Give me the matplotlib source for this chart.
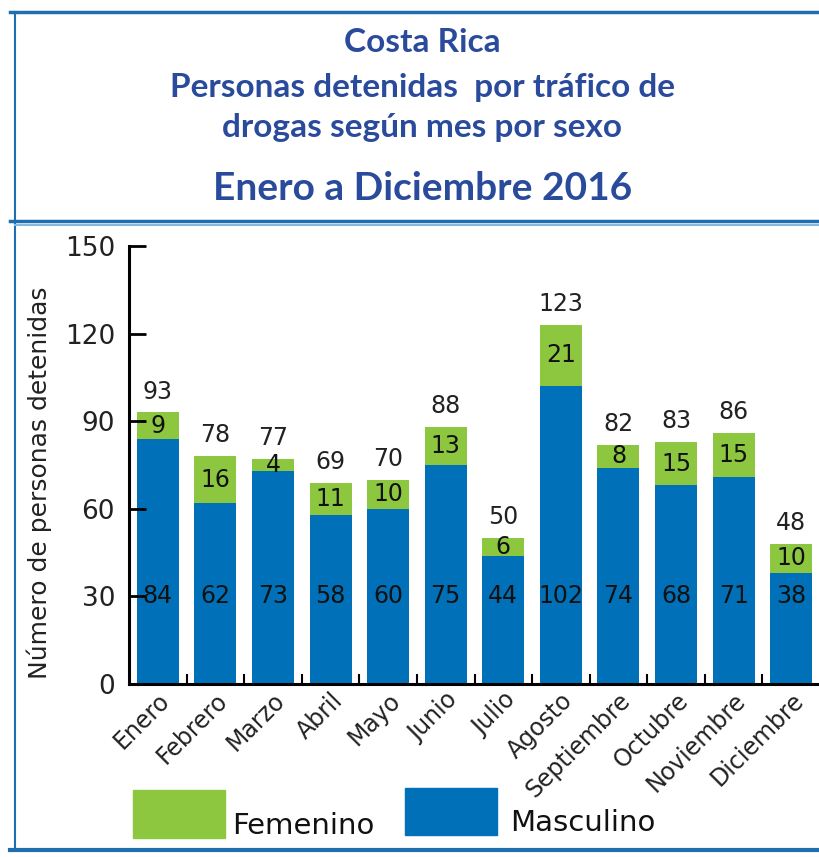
import numpy as np
import matplotlib.pyplot as plt
from matplotlib.lines import Line2D
from matplotlib.patches import Rectangle

# Datos: personas detenidas por tráfico de drogas, Costa Rica 2016
meses = ['Enero', 'Febrero', 'Marzo', 'Abril', 'Mayo', 'Junio', 'Julio',
         'Agosto', 'Septiembre', 'Octubre', 'Noviembre', 'Diciembre']
masculino = [84, 62, 73, 58, 60, 75, 44, 102, 74, 68, 71, 38]
femenino = [9, 16, 4, 11, 10, 13, 6, 21, 8, 15, 15, 10]

azul = '#0070b8'
verde = '#8dc63f'
titulo_color = '#2a4a9c'
borde = '#1f6fb0'

W, H = 819, 857
fig = plt.figure(figsize=(W / 100, H / 100), dpi=100)

def fx(px):
    return px / W

def fy(py):
    return 1 - py / H

ax = fig.add_axes([fx(129), fy(684), fx(820) - fx(129), fy(246) - fy(684)])

x = np.arange(len(meses))
masc = np.array(masculino)
fem = np.array(femenino)
total = masc + fem

ax.bar(x, masc, width=0.73, color=azul)
ax.bar(x, fem, bottom=masc, width=0.73, color=verde)

for i in x:
    ax.text(i, 30, str(masc[i]), ha='center', va='center', fontsize=17, color='#111111')
    ax.text(i, masc[i] + fem[i] / 2, str(fem[i]), ha='center', va='center', fontsize=17, color='#111111')
    ax.text(i, total[i] + 3, str(total[i]), ha='center', va='bottom', fontsize=17, color='#222222')

ax.set_xlim(-0.5, len(meses) - 0.5)
ax.set_ylim(0, 150)
ax.set_yticks([0, 30, 60, 90, 120, 150])
ax.tick_params(axis='y', direction='in', length=12, width=2, labelsize=19, labelcolor='#222222', pad=10)
ax.set_xticks(x)
ax.set_xticklabels(meses, rotation=45, ha='right', rotation_mode='anchor', fontsize=17, color='#222222')
ax.tick_params(axis='x', length=0, pad=3)
ax.set_xticks(x[:-1] + 0.5, minor=True)
ax.tick_params(axis='x', which='minor', direction='in', length=7, width=1.5)
ax.set_ylabel('Número de personas detenidas', fontsize=18, color='#222222')
ax.yaxis.set_label_coords(-0.112, 0.46)

for s in ['top', 'right']:
    ax.spines[s].set_visible(False)
ax.spines['left'].set_linewidth(2.2)
ax.spines['bottom'].set_linewidth(2.2)

# Títulos
cx = 0.5 + fx(13)
fig.text(cx, fy(42), 'Costa Rica', ha='center', va='center', fontsize=24,
         fontweight='bold', color=titulo_color, family='Lato')
fig.text(cx, fy(88), 'Personas detenidas  por tráfico de', ha='center', va='center',
         fontsize=24, fontweight='bold', color=titulo_color, family='Lato')
fig.text(cx, fy(128), 'drogas según mes por sexo', ha='center', va='center',
         fontsize=24, fontweight='bold', color=titulo_color, family='Lato')
fig.text(cx, fy(188), 'Enero a Diciembre 2016', ha='center', va='center',
         fontsize=28, fontweight='bold', color=titulo_color, family='Lato')

# Marco
fig.add_artist(Line2D([fx(10), 1], [fy(12), fy(12)], color=borde, lw=2.5))
fig.add_artist(Line2D([fx(15), fx(15)], [fy(12), fy(850)], color=borde, lw=1.5))
fig.add_artist(Line2D([fx(10), 1], [fy(221), fy(221)], color=borde, lw=2.5))
fig.add_artist(Line2D([fx(15), 1], [fy(225), fy(225)], color='#8ab8dc', lw=1.5))
fig.add_artist(Line2D([fx(10), 1], [fy(850), fy(850)], color=borde, lw=3))

# Leyenda
fig.add_artist(Rectangle((fx(133), fy(838)), fx(92), fy(790) - fy(838), color=verde,
                         transform=fig.transFigure))
fig.text(fx(232), fy(826), 'Femenino', ha='left', va='center', fontsize=21, color='#111111')
fig.add_artist(Rectangle((fx(405), fy(835)), fx(92), fy(788) - fy(835), color=azul,
                         transform=fig.transFigure))
fig.text(fx(510), fy(823), 'Masculino', ha='left', va='center', fontsize=21, color='#111111')

fig.savefig('out.png', dpi=100)
